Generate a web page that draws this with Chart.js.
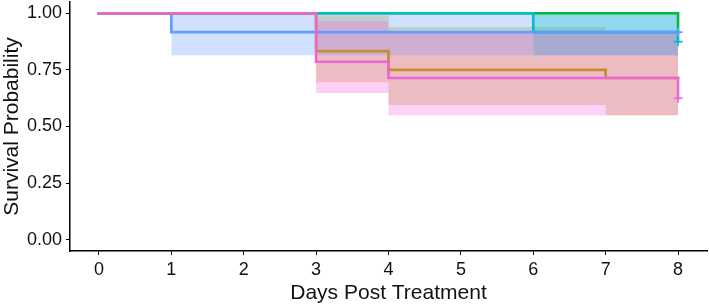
<!DOCTYPE html>
<html>
<head>
<meta charset="utf-8">
<script src="https://cdn.jsdelivr.net/npm/chart.js@4"></script>
<style>
  html, body { margin: 0; padding: 0; background: #fff; }
  #wrap { width: 709px; height: 304px; }
</style>
</head>
<body>
<div id="wrap"><canvas id="chart"></canvas></div>
<script>
const xTicks = [0, 1, 2, 3, 4, 5, 6, 7, 8];
const yTicks = [0, 0.25, 0.5, 0.75, 1];

// survival curves (step changes at event days)
const greenTime = [0, 8];
const greenSurv = [1, 0.917];
const cyanTime = [0, 6, 8];
const cyanSurv = [1, 0.917, 0.875];
const blueTime = [0, 1, 8];
const blueSurv = [1, 0.917, 0.917];
const oliveTime = [0, 3, 4, 7, 8];
const oliveSurv = [1, 0.833, 0.75, 0.714, 0.714];
const pinkTime = [0, 3, 4, 8];
const pinkSurv = [1, 0.786, 0.714, 0.625];

// confidence bands
const blueCiTime = [1, 8];
const blueUpper = [1, 1];
const blueLower = [0.815, 0.815];
const cyanCiTime = [6, 8];
const cyanUpper = [1, 1];
const cyanLower = [0.815, 0.815];
const oliveCiTime = [3, 4, 7, 8];
const oliveUpper = [0.99, 0.94, 0.917, 0.917];
const oliveLower = [0.696, 0.595, 0.55, 0.55];
const pinkCiTime = [3, 4, 8];
const pinkUpper = [0.965, 0.917, 0.917];
const pinkLower = [0.648, 0.55, 0.55];

// censor marks
const censorTime = [8, 8, 8];
const censorSurv = [0.917, 0.875, 0.625];
const censorColor = ['#619CFF', '#00BFC4', '#E966D4'];

const pts = (xs, ys) => xs.map((x, i) => ({x: x, y: ys[i]}));

const datasets = [];

// order: higher numbers are painted first (further back)
function addBand(times, upper, lower, color, order) {
    datasets.push({
        data: pts(times, upper), stepped: 'before', borderWidth: 0,
        borderColor: 'rgba(0,0,0,0)', pointRadius: 0, fill: false, order: order + 0.5
    });
    datasets.push({
        data: pts(times, lower), stepped: 'before', borderWidth: 0,
        borderColor: 'rgba(0,0,0,0)', pointRadius: 0,
        fill: datasets.length - 1, backgroundColor: color, order: order
    });
}

function addCurve(times, surv, color, order) {
    datasets.push({
        data: pts(times, surv), stepped: 'before', borderColor: color,
        borderWidth: 2.6, pointRadius: 0, fill: false, order: order,
        borderCapStyle: 'square'
    });
}

addBand(oliveCiTime, oliveUpper, oliveLower, 'rgba(183,159,0,0.3)', 40);
addBand(blueCiTime, blueUpper, blueLower, 'rgba(97,156,255,0.3)', 30);
addBand(cyanCiTime, cyanUpper, cyanLower, 'rgba(0,191,196,0.3)', 25);
addBand(pinkCiTime, pinkUpper, pinkLower, 'rgba(245,100,227,0.3)', 20);

addCurve(greenTime, greenSurv, '#00BA38', 9);
addCurve(cyanTime, cyanSurv, '#00BFC4', 8);
addCurve(blueTime, blueSurv, '#619CFF', 7);
addCurve(oliveTime, oliveSurv, '#C58C30', 6);
addCurve(pinkTime, pinkSurv, '#E966D4', 5);

datasets.push({
    data: pts(censorTime, censorSurv), showLine: false,
    pointStyle: 'cross', pointRadius: 4.5, pointBorderWidth: 1.6,
    borderColor: censorColor, backgroundColor: censorColor, order: 1
});

const font = "'Liberation Sans', Arial, sans-serif";

const config = {
    type: 'line',
    data: { datasets: datasets },
    options: {
        responsive: true,
        maintainAspectRatio: false,
        animation: false,
        layout: { autoPadding: false, padding: { top: 2, right: 2, left: 0, bottom: 0 } },
        plugins: { legend: { display: false }, tooltip: { enabled: false } },
        scales: {
            x: {
                type: 'linear', min: -0.4, max: 8.4,
                afterBuildTicks: s => { s.ticks = xTicks.map(v => ({value: v})); },
                afterFit: s => { s.height = 53; s.paddingLeft = 0; s.paddingRight = 0; },
                ticks: { color: '#111', font: { family: font, size: 18 }, padding: 4, maxRotation: 0 },
                grid: { drawOnChartArea: false, color: '#000', tickLength: 4, lineWidth: 1 },
                border: { color: '#000', width: 1.5 },
                title: { display: true, text: 'Days Post Treatment', color: '#111',
                         font: { family: font, size: 21 }, padding: { top: 0, bottom: -2 } }
            },
            y: {
                min: -0.05, max: 1.05,
                afterBuildTicks: s => { s.ticks = yTicks.map(v => ({value: v})); },
                afterFit: s => { s.width = 70; s.paddingTop = 0; s.paddingBottom = 0; },
                ticks: { color: '#111', font: { family: font, size: 18 }, padding: 4,
                         callback: v => v.toFixed(2) },
                grid: { drawOnChartArea: false, color: '#000', tickLength: 4, lineWidth: 1 },
                border: { color: '#000', width: 1.5 },
                title: { display: true, text: 'Survival Probability', color: '#111',
                         font: { family: font, size: 21 }, padding: { top: 0, bottom: 0 } }
            }
        }
    }
};

const myChart = new Chart(document.getElementById('chart'), config);
</script>
</body>
</html>
